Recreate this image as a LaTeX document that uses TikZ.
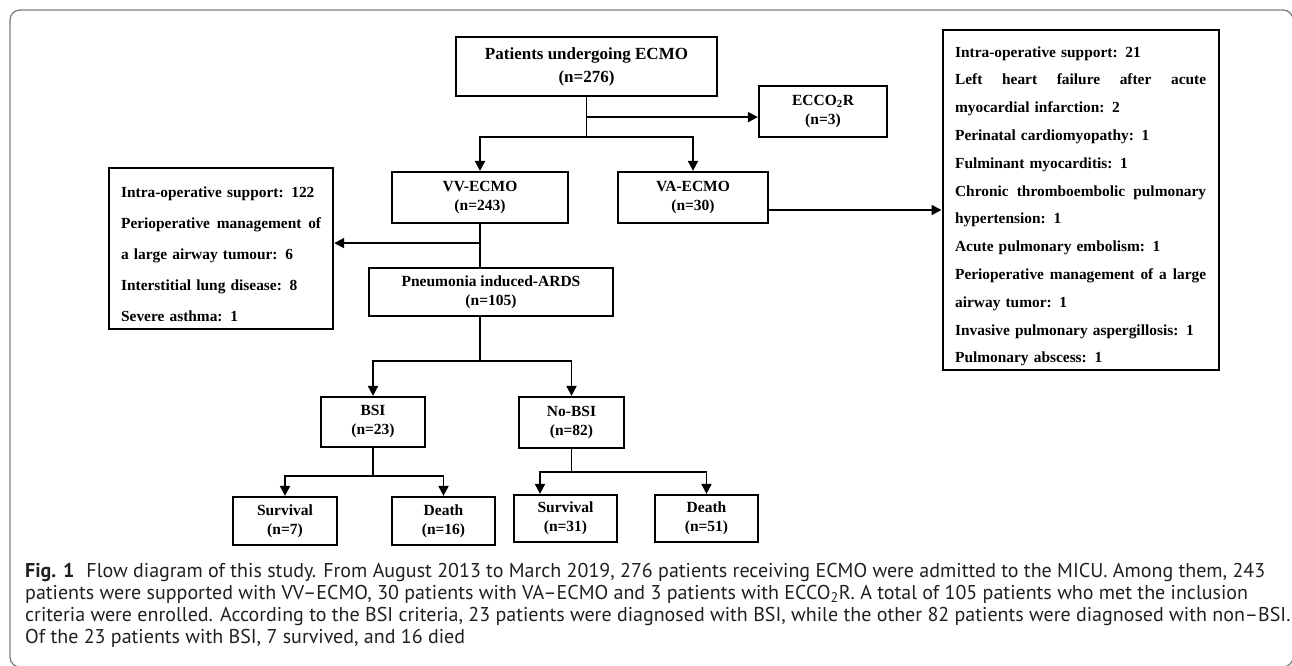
\documentclass[tikz,border=0pt]{standalone}
\usepackage{fontspec}
\setmainfont{Liberation Serif}
\newfontfamily\capfont{PT Sans}
\usetikzlibrary{arrows.meta}
\definecolor{framegray}{RGB}{128,128,128}
\definecolor{captext}{RGB}{35,31,32}
\newsavebox\capmeasurebox
\newcommand\jline[2]{\makebox[#1][l]{#2}}
\begin{document}
\begin{tikzpicture}[x=1pt,y=-1pt,
  box/.style={draw, line width=2.2pt, align=center, inner sep=0pt,
    font=\fontsize{15.5}{19}\selectfont\bfseries},
  topbox/.style={box, font=\fontsize{17}{23}\selectfont\bfseries},
  tbox/.style={draw, line width=2.2pt, align=left, inner xsep=12.5pt, inner ysep=0pt,
    font=\fontsize{15.4}{27.8}\selectfont\bfseries},
  lbox/.style={tbox, inner xsep=12pt, font=\fontsize{15.4}{31}\selectfont\bfseries},
  conn/.style={line width=1.8pt},
  arr/.style={conn, -{Triangle[length=10pt,width=10pt]}},
  outerframe/.style={draw=framegray, line width=1.3pt, rounded corners=10pt},
  capt/.style={anchor=base west, inner sep=0pt, text=captext,
    font=\capfont\fontsize{\capsz}{22pt}\selectfont}]
\useasboundingbox (0,0) rectangle (1292,666);
\sbox\capmeasurebox{\capfont\fontsize{20pt}{24pt}\selectfont\textbf{Fig. 1}\hspace{0.6em}Flow diagram of this study. From August 2013 to March 2019, 276 patients receiving ECMO were admitted to the MICU. Among them, 243}%
\ifdim\wd\capmeasurebox>100pt
  \edef\capsz{\the\dimexpr\numexpr 1228*20*65536/\wd\capmeasurebox\relax sp\relax}%
\else
  \def\capsz{20pt}%
\fi
\begin{scope}
  \clip (0,0) rectangle (1292,666);
  \draw[outerframe] (10,10) rectangle (1293,667);
\end{scope}

% boxes
\node[topbox, minimum width=261pt, minimum height=59pt] (top) at (586.5,66.5) {Patients undergoing ECMO\\(n=276)};
\node[box, minimum width=128pt, minimum height=51pt] (ecco) at (823,111.5) {ECCO\textsubscript{2}R\\(n=3)};
\node[box, minimum width=176pt, minimum height=51pt] (vv) at (480,197.5) {VV-ECMO\\(n=243)};
\node[box, minimum width=150pt, minimum height=51pt] (va) at (693,197.5) {VA-ECMO\\(n=30)};
\node[box, minimum width=244pt, minimum height=48pt] (pn) at (491,292) {Pneumonia induced-ARDS\\(n=105)};
\node[box, minimum width=104pt, minimum height=50pt] (bsi) at (373,422) {BSI\\(n=23)};
\node[box, minimum width=105pt, minimum height=51pt] (nobsi) at (571.5,422.5) {No-BSI\\(n=82)};
\node[box, minimum width=104pt, minimum height=48pt] (s1) at (285,521) {Survival\\(n=7)};
\node[box, minimum width=103pt, minimum height=48pt] (d1) at (443.5,521) {Death\\(n=16)};
\node[box, minimum width=103pt, minimum height=47pt] (s2) at (565.5,518.5) {Survival\\(n=31)};
\node[box, minimum width=103pt, minimum height=47pt] (d2) at (706.5,518.5) {Death\\(n=51)};

\node[lbox, anchor=north west, text width=200pt] (lb) at (108,167) {\rule{0pt}{29pt}Intra-operative support: 122\\
\jline{200pt}{Perioperative\hfill management\hfill of}\\
a large airway tumour: 6\\
Interstitial lung disease: 8\\
Severe asthma: 1\rule[-8pt]{0pt}{8pt}};

\node[tbox, anchor=north west, text width=251pt] (rb) at (941.5,29.3) {\rule{0pt}{26.7pt}Intra-operative support: 21\\
\jline{251pt}{Left\hfill heart\hfill failure\hfill after\hfill acute}\\
myocardial infarction: 2\\
Perinatal cardiomyopathy: 1\\
Fulminant myocarditis: 1\\
\jline{251pt}{Chronic\hfill thromboembolic\hfill pulmonary}\\
hypertension: 1\\
Acute pulmonary embolism: 1\\
\jline{251pt}{Perioperative\hfill management\hfill of\hfill a\hfill large}\\
airway tumor: 1\\
Invasive pulmonary aspergillosis: 1\\
Pulmonary abscess: 1\rule[-7.2pt]{0pt}{7.2pt}};

% connectors
\draw[conn] (top.south) -- ++(0,40) coordinate (j1);
\draw[arr] ([yshift=-20pt]top.south) coordinate (e0) -- (e0 -| ecco.west);
\draw[arr] (j1) -| (vv.north);
\draw[arr] (j1) -| (va.north);
\draw[conn] (vv.south) -- (vv.south |- pn.north);
\draw[arr] ([yshift=-19pt]vv.south) coordinate (j2) -- (j2 -| lb.east);
\draw[conn] (pn.south -| vv.south) -- ++(0,44) coordinate (j3);
\draw[arr] (j3) -| (bsi.north);
\draw[arr] (j3) -| (nobsi.north);
\draw[conn] (bsi.south) -- ++(0,28) coordinate (j4);
\draw[arr] (j4) -| (s1.north);
\draw[arr] (j4) -| (d1.north);
\draw[conn] (nobsi.south) -- ++(0,23) coordinate (j5);
\draw[arr] (j5) -| ([xshift=-25.5pt]s2.north);
\draw[arr] (j5) -| (d2.north);
\draw[arr] ([yshift=-12.5pt]va.east) coordinate (v0) -- (v0 -| rb.west);

% caption
\node[capt] (c1) at (25,577) {\textbf{Fig. 1}\hspace{0.6em}Flow diagram of this study. From August 2013 to March 2019, 276 patients receiving ECMO were admitted to the MICU. Among them, 243};
\node[capt] (c2) at (25,599) {patients were supported with VV–ECMO, 30 patients with VA–ECMO and 3 patients with ECCO\textsubscript{2}R. A total of 105 patients who met the inclusion};
\node[capt] (c3) at (25,621) {criteria were enrolled. According to the BSI criteria, 23 patients were diagnosed with BSI, while the other 82 patients were diagnosed with non–BSI.};
\node[capt] (c4) at (25,643) {Of the 23 patients with BSI, 7 survived, and 16 died};
\end{tikzpicture}
\end{document}
